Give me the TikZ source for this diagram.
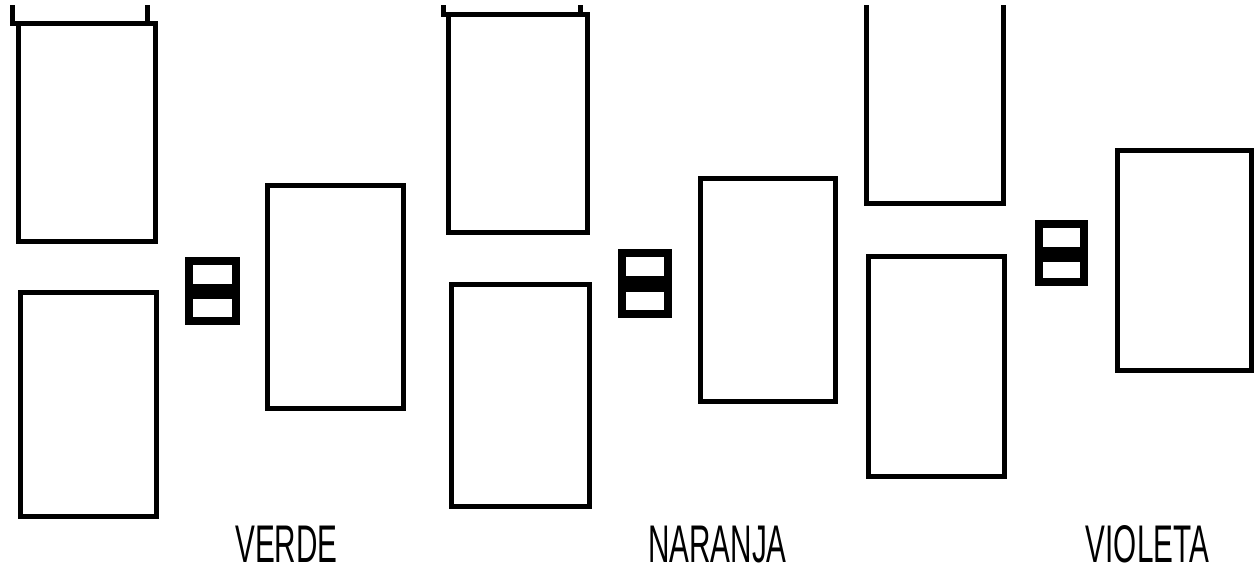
\documentclass[tikz,border=0pt]{standalone}
\usepackage{fontspec}
\setmainfont{Liberation Sans}
\begin{document}
\begin{tikzpicture}[x=1pt,y=-1pt,
  card/.style={draw=black,line width=5pt,line join=miter},
  eqbox/.style={draw=black,line width=8pt,line join=miter},
  word/.style={anchor=base,inner sep=0pt,font=\fontsize{53}{60}\selectfont}]
\useasboundingbox (0,0) rectangle (1257,571);
% column 1
\draw[card] (12,5) -- (12,23) -- (147,23) -- (147,5);
\draw[card] (18,23) rectangle (155,241);
\draw[card] (20,292) rectangle (156,516);
\draw[eqbox] (189,261) rectangle (236,288);
\draw[eqbox] (189,295) rectangle (236,321);
\draw[card] (267,185) rectangle (403,408);
\node[word] (verde) at (286.5,562) {\smash{\scalebox{0.56}[1]{VERDE}}};
% column 2
\draw[card] (443,5) -- (443,14) -- (580,14) -- (580,5);
\draw[card] (448,14) rectangle (587,232);
\draw[card] (451,284) rectangle (589,506);
\draw[eqbox] (622,253) rectangle (668,280);
\draw[eqbox] (622,288) rectangle (668,314);
\draw[card] (700,178) rectangle (835,401);
\node[word] (naranja) at (717.5,562) {\smash{\scalebox{0.56}[1]{NARANJA}}};
% column 3
\draw[card] (866,5) -- (866,203) -- (1003,203) -- (1003,5);
\draw[card] (868,256) rectangle (1004,476);
\draw[eqbox] (1039,224) rectangle (1084,251);
\draw[eqbox] (1039,258) rectangle (1084,282);
\draw[card] (1117,150) rectangle (1251,370);
\node[word] (violeta) at (1147.5,562) {\smash{\scalebox{0.56}[1]{VIOLETA}}};
\end{tikzpicture}
\end{document}
